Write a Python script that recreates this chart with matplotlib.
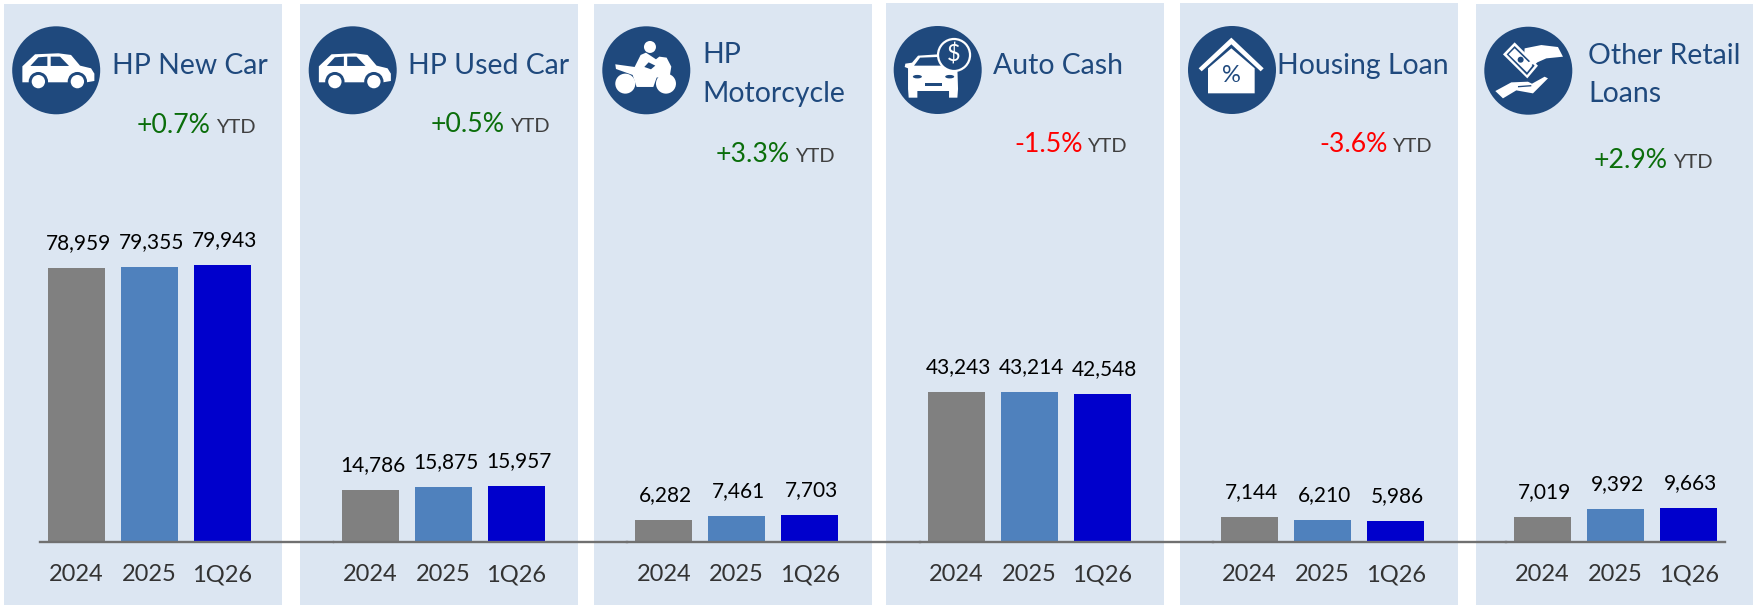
import matplotlib
matplotlib.use('Agg')
import matplotlib.pyplot as plt
from matplotlib.patches import Circle, Ellipse, Polygon, Rectangle

plt.rcParams['font.family'] = ['Lato', 'DejaVu Sans']

# Data
categories = ['2024', '2025', '1Q26']
titles = ['HP New Car', 'HP Used Car', 'HP\nMotorcycle', 'Auto Cash', 'Housing Loan', 'Other Retail\nLoans']
hp_new_car = [78959, 79355, 79943]
hp_used_car = [14786, 15875, 15957]
hp_motorcycle = [6282, 7461, 7703]
auto_cash = [43243, 43214, 42548]
housing_loan = [7144, 6210, 5986]
other_retail = [7019, 9392, 9663]
series = [hp_new_car, hp_used_car, hp_motorcycle, auto_cash, housing_loan, other_retail]
ytd = ['+0.7%', '+0.5%', '+3.3%', '-1.5%', '-3.6%', '+2.9%']

# Layout, in pixels of the 1759x605 picture
W, H = 1759, 605
baseline_px = 541.5
units_per_px = 289
bar_step = 73
panel_edges = [(4, 282, 4), (300, 578, 4), (594, 872, 4), (886, 1164, 3), (1180, 1458, 3), (1476, 1753, 4)]
first_bar_x = [76.5, 370.5, 663.7, 956.5, 1249.6, 1542.6]
icon_centers = [(56.2, 70.3), (352.7, 70.3), (646.3, 70.3), (937.7, 70), (1232, 70), (1528.3, 70.7)]
title_pos = [(112, [74]), (407.7, [74]), (702, [63, 101.7]), (992.7, [74]), (1277, [74]), (1588, [64, 101.7])]
pct_x = [137, 430.7, 715.3, 1014.6, 1319, 1594]
ytd_x = [215.9, 510.5, 795.2, 1087.1, 1392.5, 1673]
ytd_y = [133, 132, 162, 151.7, 151.7, 168]

panel_color = '#DCE6F2'
navy = '#1F497D'
icon_blue = '#1F497D'
bar_colors = ['#808080', '#4F81BD', '#0000CC']
green = '#0B6E0B'
red = '#FF0000'

fig = plt.figure(figsize=(W / 100, H / 100), dpi=100)
fig.patch.set_facecolor('white')

# Background axes in pixels
bg = fig.add_axes([0, 0, 1, 1])
bg.set_xlim(0, W)
bg.set_ylim(H, 0)
bg.axis('off')

for x0, x1, top in panel_edges:
    bg.add_patch(Rectangle((x0, top), x1 - x0, H - top, facecolor=panel_color, edgecolor='none'))


def white_poly(points, origin, color='white', z=4):
    pts = [(origin[0] + px / 3, origin[1] + py / 3) for px, py in points]
    bg.add_patch(Polygon(pts, closed=True, facecolor=color, edgecolor='none', zorder=z))


def dot(xy, r, origin, color='white', z=4):
    bg.add_patch(Circle((origin[0] + xy[0] / 3, origin[1] + xy[1] / 3), r / 3, facecolor=color, edgecolor='none', zorder=z))


def draw_side_car(o):
    white_poly([(52, 172), (52, 124), (90, 88), (160, 85), (198, 90), (225, 122), (258, 130), (268, 146),
                (268, 168), (245, 172)], o)
    white_poly([(76, 123), (100, 97), (127, 95), (127, 123)], o, icon_blue, 5)
    white_poly([(137, 123), (137, 95), (165, 95), (192, 123)], o, icon_blue, 5)
    for cx in (100, 217):
        dot((cx, 170), 29, o, icon_blue, 5)
        dot((cx, 170), 20, o, 'white', 6)


def draw_motorcycle(o):
    dot((162, 66), 18, o)
    dot((88, 176), 30, o)
    dot((210, 176), 30, o)
    white_poly([(58, 118), (116, 126), (134, 90), (150, 83), (180, 103), (190, 95), (212, 98), (226, 125),
                (222, 150), (182, 158), (172, 186), (122, 186), (110, 150), (60, 132)], o)
    white_poly([(145, 126), (158, 112), (178, 122), (165, 133)], o, icon_blue, 5)


def draw_auto_cash(o):
    white_poly([(60, 130), (50, 126), (52, 116), (72, 113), (90, 92), (150, 88), (190, 110), (208, 130), (210, 192),
                (208, 218), (183, 218), (183, 198), (88, 198), (88, 218), (62, 218), (60, 192)], o)
    white_poly([(78, 122), (96, 98), (150, 96), (170, 122)], o, icon_blue, 5)
    bg.add_patch(Ellipse((o[0] + 88 / 3, o[1] + 155 / 3), 9, 3.5, facecolor=icon_blue, edgecolor='none', zorder=5))
    bg.add_patch(Ellipse((o[0] + 185 / 3, o[1] + 155 / 3), 9, 3.5, facecolor=icon_blue, edgecolor='none', zorder=5))
    bg.add_patch(Rectangle((o[0] + 112 / 3, o[1] + 174 / 3), 50 / 3, 10 / 3, facecolor=icon_blue, edgecolor='none', zorder=5))
    bg.add_patch(Circle((o[0] + 198 / 3, o[1] + 90 / 3), 48 / 3, facecolor=icon_blue, edgecolor='white', linewidth=1.6, zorder=6))
    bg.text(o[0] + 198 / 3, o[1] + 90 / 3, '$', color='white', fontsize=17, ha='center', va='center', zorder=7)


def draw_house(o):
    white_poly([(50, 130), (148, 38), (245, 130), (236, 139), (148, 58), (59, 139)], o)
    white_poly([(78, 130), (148, 70), (218, 130), (218, 205), (78, 205)], o)
    bg.text(o[0] + 148 / 3, o[1] + 150 / 3, '%', color=icon_blue, fontsize=17, ha='center', va='center', zorder=6)


def draw_hands(o):
    white_poly([(140, 70), (190, 60), (240, 66), (255, 95), (205, 100), (178, 112), (165, 124), (145, 125), (138, 100)], o)
    white_poly([(75, 88), (110, 52), (180, 122), (148, 160)], o, 'white', 5)
    white_poly([(86, 88), (110, 63), (170, 122), (147, 150)], o, icon_blue, 6)
    white_poly([(92, 88), (110, 70), (163, 122), (147, 142)], o, 'white', 7)
    dot((128, 104), 9, o, icon_blue, 8)
    white_poly([(145, 115), (172, 100), (178, 108), (152, 126)], o, 'white', 9)
    white_poly([(52, 198), (100, 172), (150, 170), (162, 176), (200, 155), (210, 160), (165, 205), (115, 196), (75, 220)], o)
    white_poly([(120, 183), (160, 180), (160, 184), (120, 187)], o, icon_blue, 5)


icon_funcs = [draw_side_car, draw_side_car, draw_motorcycle, draw_auto_cash, draw_house, draw_hands]
icon_mid = [(153.5, 136), (153.5, 136), (151, 136), (149, 135), (150, 135), (151, 137)]

for k in range(6):
    cx, cy = icon_centers[k]
    bg.add_patch(Circle((cx, cy), 44, facecolor=icon_blue, edgecolor='none', zorder=3))
    origin = (cx - icon_mid[k][0] / 3, cy - icon_mid[k][1] / 3)
    icon_funcs[k](origin)

    # Заголовок и YTD
    tx, ty = title_pos[k]
    for line, y in zip(titles[k].split('\n'), ty):
        bg.text(tx, y, line, color=navy, fontsize=20.4, ha='left', va='baseline')
    pct_color = green if ytd[k].startswith('+') else red
    bg.text(pct_x[k], ytd_y[k], ytd[k], color=pct_color, fontsize=19.2, ha='left', va='baseline')
    bg.text(ytd_x[k], ytd_y[k], 'YTD', color='#404040', fontsize=14.5, ha='left', va='baseline')

# Bars, one axes per panel on the same value scale
for k, values in enumerate(series):
    left = first_bar_x[k] - bar_step / 2
    span = 3 if k == 5 else 293 / bar_step
    ax = fig.add_axes([left / W, 1 - baseline_px / H, span * bar_step / W, baseline_px / H])
    ax.patch.set_alpha(0)
    positions = range(len(categories))
    ax.bar(positions, values, width=57 / bar_step, color=bar_colors, linewidth=0)
    ax.set_xlim(-0.5, span - 0.5)
    ax.set_ylim(0, baseline_px * units_per_px)
    for pos, val in zip(positions, values):
        ax.annotate(f'{val:,}', (pos, val), xytext=(1.5, 13.5), textcoords='offset points',
                    ha='center', va='baseline', fontsize=15, color='black')
    ax.set_xticks(list(positions))
    ax.set_xticklabels(categories, fontsize=17, color='#333333')
    ax.tick_params(axis='x', length=0, pad=16.5)
    ax.set_yticks([])
    for side in ('top', 'left', 'right'):
        ax.spines[side].set_visible(False)
    ax.spines['bottom'].set_color('#707070')
    ax.spines['bottom'].set_linewidth(1.7)

fig.savefig('out.png', dpi=100, facecolor='white')
